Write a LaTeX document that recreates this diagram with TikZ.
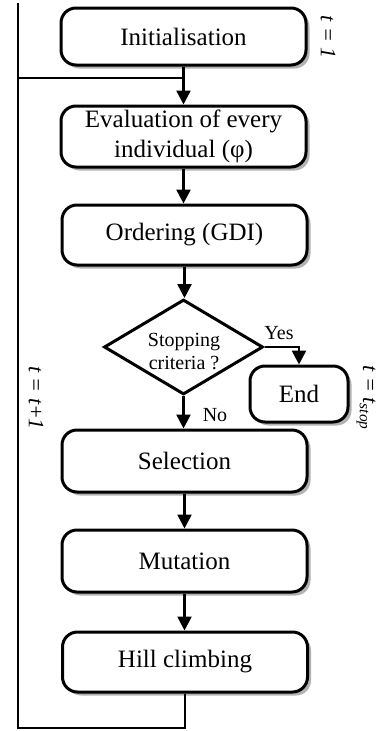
\documentclass[tikz,border=0pt]{standalone}
\usepackage{fontspec}
\setmainfont{Liberation Serif}
\usetikzlibrary{shapes.geometric,shadows,arrows.meta}
\begin{document}
\begin{tikzpicture}[x=1pt,y=-1pt,
  box/.style={draw,line width=3pt,rounded corners=15pt,fill=white,
    drop shadow={shadow xshift=3.5pt,shadow yshift=-3.5pt,fill=gray!60,opacity=1},
    minimum width=245pt,inner sep=0pt,align=center,
    font=\fontsize{25}{30}\selectfont},
  conn/.style={line width=2.6pt},
  arr/.style={conn,-{Triangle[length=14pt,width=14pt]}},
  rlab/.style={rotate=-90,font=\fontsize{22}{24}\selectfont\itshape}]
\useasboundingbox (0,0) rectangle (381,731);
\node[box,minimum height=57pt] (init) at (183.5,36.5) {Initialisation};
\node[box,minimum height=61pt] (eval) at (183.5,136.5) {Evaluation of every\\individual (φ)};
\node[box,minimum height=60pt] (order) at (184.5,235) {Ordering (GDI)};
\node[draw,line width=3pt,shape=diamond,shape aspect=1.67,inner sep=0pt,
  minimum width=159pt,minimum height=95pt,fill=white] (dia) at (183.5,347) {};
\node[align=center,font=\fontsize{20}{23}\selectfont] (diat) at (184,352) {Stopping\\criteria ?};
\node[box,minimum width=98pt,minimum height=56pt] (end) at (299,394) {End};
\node[box,minimum height=62pt] (sel) at (184.5,461) {Selection};
\node[box,minimum height=62pt] (mut) at (184.5,561) {Mutation};
\node[box,minimum height=60pt] (hill) at (185,662) {Hill climbing};
\node[font=\fontsize{20}{23}\selectfont] (yes) at (279,333) {Yes};
\node[font=\fontsize{20}{23}\selectfont] (no) at (215,415) {No};
\node[rlab] (l1) at (328,37) {t = 1};
\node[rlab] (l2) at (36,398) {t = t+1};
\node[rlab] (l3) at (366,398) {t = t\textsubscript{stop}};
\coordinate (lb) at (18,728);
\coordinate (lt) at (18,3);
\coordinate (j) at (183.5,78);
\draw[arr] (init.south) -- (eval.north);
\draw[arr] (eval.south) -- (eval.south|-order.north);
\draw[arr] (order.south) -- (order.south|-dia.north);
\draw[arr] (dia.south) -- (dia.south|-sel.north);
\draw[arr] (sel.south) -- (sel.south|-mut.north);
\draw[arr] (mut.south) -- (mut.south|-hill.north);
\draw[arr] (dia.east) -| (end.north);
\draw[conn] (hill.south) |- (lb) -- (lt);
\draw[conn] (lt|-j) -- (j);
\end{tikzpicture}
\end{document}
